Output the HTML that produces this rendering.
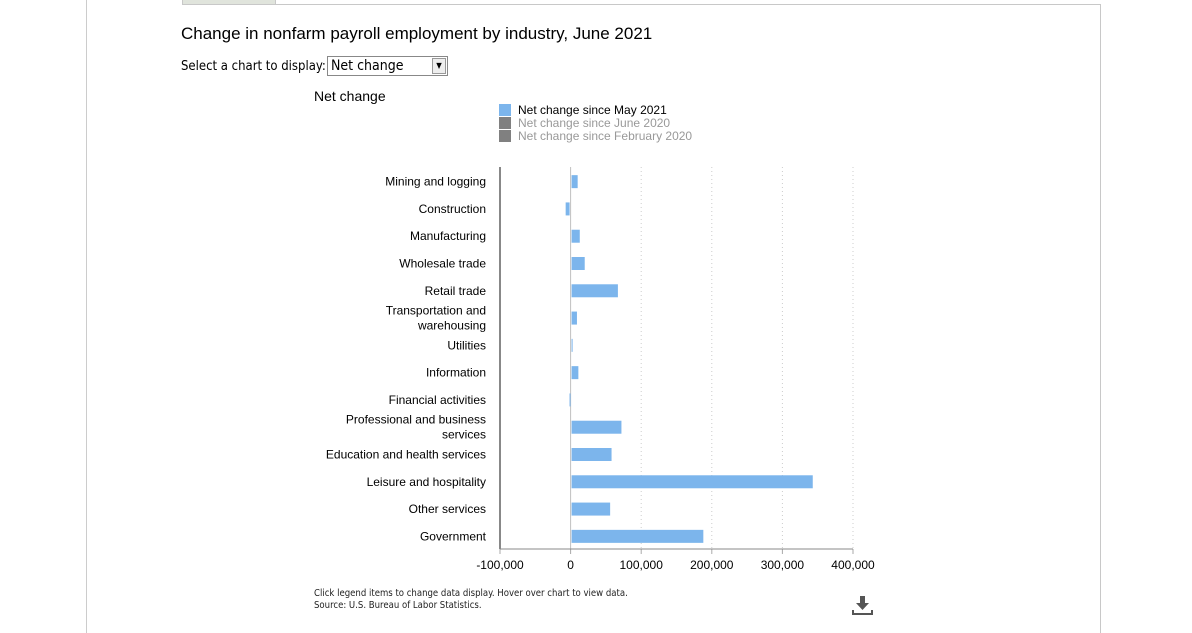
<!DOCTYPE html>
<html><head><meta charset="utf-8"><style>
body{margin:0;width:1192px;height:633px;background:#fff;position:relative;overflow:hidden;font-family:"Liberation Sans",sans-serif;}
.abs{position:absolute;}
</style></head><body>
<div class="abs" style="left:86px;top:0;width:1px;height:633px;background:#ccc"></div>
<div class="abs" style="left:182px;top:4px;width:918px;height:628px;border-top:1px solid #c8c8c8;border-right:1px solid #c8c8c8"></div>
<div class="abs" style="left:182px;top:-1px;width:92px;height:4px;background:#e0e4dc;border:1px solid #c8c8c8"></div>
<div class="abs" style="left:181px;top:24px;font-size:17px;color:#000">Change in nonfarm payroll employment by industry, June 2021</div>
<div class="abs" style="left:181px;top:59px;font-size:13px;font-family:'DejaVu Sans Condensed','Liberation Sans',sans-serif">Select a chart to display:</div>
<div class="abs" style="left:327px;top:56px;width:121px;height:20px;border:1px solid #888;box-sizing:border-box;background:#fff;font-size:14px;line-height:18px;padding-left:3px;font-family:'DejaVu Sans Condensed','Liberation Sans',sans-serif">Net change<span style="position:absolute;right:1px;top:1px;width:14px;height:16px;background:#eee;border:1px solid #999;box-sizing:border-box;font-size:8px;text-align:center;line-height:14px">▼</span></div>
<div class="abs" style="left:314px;top:88px;font-size:14px">Net change</div>
<div class="abs" style="left:499px;top:104px;font-size:12px;line-height:13px">
<div><span style="display:inline-block;width:12px;height:12px;background:#7cb5ec;vertical-align:-2px;margin-right:7px"></span>Net change since May 2021</div>
<div style="color:#999"><span style="display:inline-block;width:12px;height:12px;background:#808080;vertical-align:-2px;margin-right:7px"></span>Net change since June 2020</div>
<div style="color:#999"><span style="display:inline-block;width:12px;height:12px;background:#808080;vertical-align:-2px;margin-right:7px"></span>Net change since February 2020</div>
</div>
<svg class="abs" style="left:0;top:0" width="1192" height="633" id="chart"></svg>
<div class="abs" style="left:314px;top:588px;font-size:9.5px;line-height:12px;font-family:'DejaVu Sans Condensed','Liberation Sans',sans-serif;color:#222">Click legend items to change data display. Hover over chart to view data.<br>Source: U.S. Bureau of Labor Statistics.</div>
<svg class="abs" style="left:851px;top:594px" width="24" height="24"><path d="M9 2h5v7h4l-6.5 7-6.5-7h4z" fill="#555"/><rect x="1" y="19" width="21" height="2" fill="#555"/><rect x="1" y="16" width="2" height="5" fill="#555"/><rect x="20" y="16" width="2" height="5" fill="#555"/></svg>
<script>
const categories=["Mining and logging","Construction","Manufacturing","Wholesale trade","Retail trade","Transportation and|warehousing","Utilities","Information","Financial activities","Professional and business|services","Education and health services","Leisure and hospitality","Other services","Government"];
const values=[10000,-7000,13000,20000,67000,9000,1500,11000,-1500,72000,58000,343000,56000,188000];
const ticks=[-100000,0,100000,200000,300000,400000];
const ticklabels=["-100,000","0","100,000","200,000","300,000","400,000"];
const svg=document.getElementById('chart');const NS='http://www.w3.org/2000/svg';
const x0=500,x1=853,vmin=-100000,vmax=400000,plotTop=167,plotBot=549;
const X=v=>x0+(v-vmin)/(vmax-vmin)*(x1-x0);
const step=(plotBot-plotTop)/categories.length;
const Y=i=>plotTop+1+step*(i+0.5);
function mk(t,a){const e=document.createElementNS(NS,t);for(const k in a)e.setAttribute(k,a[k]);svg.appendChild(e);return e;}
ticks.forEach((t,i)=>{
 if(t!==vmin&&t!==0){const g=mk('line',{x1:X(t),x2:X(t),y1:plotTop,y2:plotBot,stroke:'#ccc','stroke-dasharray':'1,3'});
 
 }
 const tk=mk('line',{x1:X(t),x2:X(t),y1:plotBot,y2:plotBot+5,stroke:'#aaa'});
 
 
 const tl=mk('text',{x:X(t),y:plotBot+20,'text-anchor':'middle','font-size':12,fill:'#000'});tl.textContent=ticklabels[i];
 
 
});
const zl=mk('line',{x1:X(0),x2:X(0),y1:plotTop,y2:plotBot,stroke:'#c0c0c0'});


const ya=mk('line',{x1:x0,x2:x0,y1:plotTop,y2:plotBot,stroke:'#888','stroke-width':2});


const xa=mk('line',{x1:x0,x2:x1,y1:plotBot,y2:plotBot,stroke:'#888'});


categories.forEach((c,i)=>{
 const v=values[i],a=X(Math.min(0,v)),b=X(Math.max(0,v));
 const r=mk('rect',{x:a+(v>=0?1:0),y:Y(i)-6.5,width:Math.max(1,b-a-1),height:13,fill:'#7cb5ec'});
 
 
 const parts=c.split('|');
 const t=mk('text',{x:486,y:Y(i)+4-(parts.length-1)*7.5,'text-anchor':'end','font-size':12,fill:'#000'});
 
 
 parts.forEach((p,j)=>{const s=document.createElementNS(NS,'tspan');s.setAttribute('x',486);if(j)s.setAttribute('dy',15);s.textContent=p;t.appendChild(s);});
});
</script>
</body></html>
